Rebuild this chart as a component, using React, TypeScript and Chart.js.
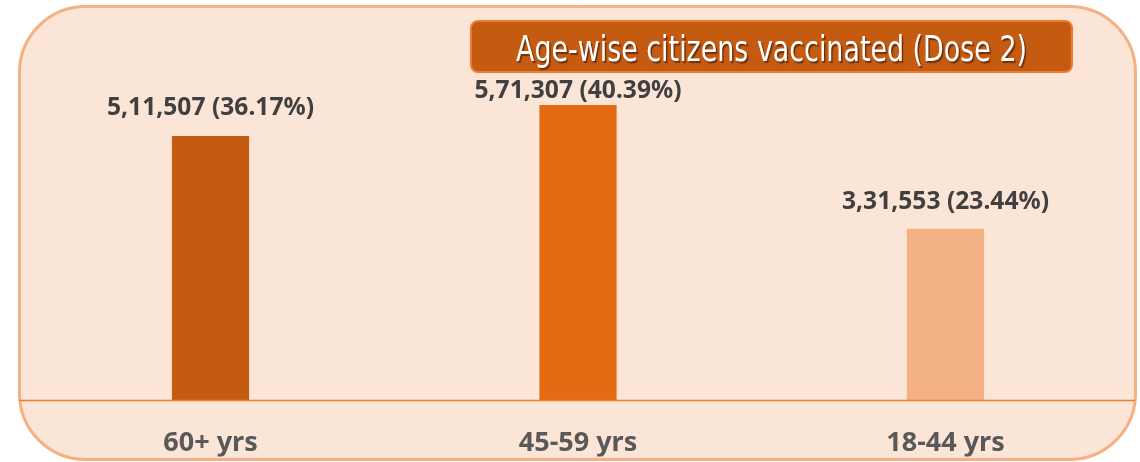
import React, { useEffect, useRef } from "react";
import { Chart, registerables } from "chart.js";

Chart.register(...registerables);

const categories = ["60+ yrs", "45-59 yrs", "18-44 yrs"];
const citizens = [511507, 571307, 331553];
const shareLabels = ["5,11,507 (36.17%)", "5,71,307 (40.39%)", "3,31,553 (23.44%)"];
const barColors = ["#C55A11", "#E46A14", "#F4B183"];
const labelLift = [28, 14, 27];
const titleText = "Age-wise citizens vaccinated (Dose 2)";

function roundRect(ctx: CanvasRenderingContext2D, x: number, y: number, w: number, h: number, r: number) {
  ctx.beginPath();
  ctx.moveTo(x + r, y);
  ctx.lineTo(x + w - r, y);
  ctx.arcTo(x + w, y, x + w, y + r, r);
  ctx.lineTo(x + w, y + h - r);
  ctx.arcTo(x + w, y + h, x + w - r, y + h, r);
  ctx.lineTo(x + r, y + h);
  ctx.arcTo(x, y + h, x, y + h - r, r);
  ctx.lineTo(x, y + r);
  ctx.arcTo(x, y, x + r, y, r);
  ctx.closePath();
}

const framePlugin = {
  id: "frame",
  beforeDraw(chart: any) {
    const ctx = chart.ctx as CanvasRenderingContext2D;
    ctx.save();
    ctx.fillStyle = "#ffffff";
    ctx.fillRect(0, 0, chart.width, chart.height);
    roundRect(ctx, 19.5, 6.5, 1116, 453, 66);
    ctx.fillStyle = "#FBE5D6";
    ctx.fill();
    ctx.lineWidth = 3;
    ctx.strokeStyle = "#F4B183";
    ctx.stroke();
    ctx.beginPath();
    ctx.moveTo(580, 0);
    ctx.lineTo(586, 0);
    ctx.lineTo(583, 6);
    ctx.closePath();
    ctx.fillStyle = "#ffffff";
    ctx.fill();
    ctx.restore();
  },
  afterDatasetsDraw(chart: any) {
    const ctx = chart.ctx as CanvasRenderingContext2D;
    const yScale = chart.scales.y;
    const y0 = Math.round(yScale.getPixelForValue(0)) + 0.5;
    ctx.save();
    ctx.strokeStyle = "#ED7D31";
    ctx.lineWidth = 1.5;
    ctx.beginPath();
    ctx.moveTo(19, y0);
    ctx.lineTo(1135, y0);
    ctx.stroke();

    const meta = chart.getDatasetMeta(0);
    ctx.fillStyle = "#404040";
    ctx.font = "bold 25px 'Noto Sans'";
    ctx.textAlign = "center";
    ctx.textBaseline = "middle";
    meta.data.forEach((bar: any, i: number) => {
      const txt = shareLabels[i];
      const w = ctx.measureText(txt).width;
      const target = 207;
      ctx.save();
      ctx.translate(bar.x, bar.y - labelLift[i]);
      ctx.scale(target / w, 1);
      ctx.fillText(txt, 0, 0);
      ctx.restore();
    });

    roundRect(ctx, 471, 21, 601, 51, 7);
    ctx.fillStyle = "#C55A11";
    ctx.fill();
    ctx.lineWidth = 2;
    ctx.strokeStyle = "#ED7D31";
    ctx.stroke();
    ctx.font = "35px 'DejaVu Sans Condensed', 'DejaVu Sans'";
    ctx.textAlign = "center";
    ctx.textBaseline = "alphabetic";
    const tw = ctx.measureText(titleText).width;
    ctx.save();
    ctx.translate(771.5, 61);
    ctx.scale(511 / tw, 1);
    ctx.shadowColor = "rgba(0,0,0,0.45)";
    ctx.shadowOffsetX = 1.5;
    ctx.shadowOffsetY = 1.5;
    ctx.shadowBlur = 1;
    ctx.fillStyle = "#ffffff";
    ctx.fillText(titleText, 0, 0);
    ctx.restore();
    ctx.restore();
  },
};

export default function App() {
  const ref = useRef<HTMLCanvasElement | null>(null);
  useEffect(() => {
    document.body.style.margin = "0";
    const canvas = ref.current!;
    const chart = new Chart(canvas, {
      type: "bar",
      data: {
        labels: categories,
        datasets: [
          {
            data: citizens,
            backgroundColor: barColors,
            borderWidth: 0,
            categoryPercentage: 1,
            barPercentage: 0.21,
          },
        ],
      },
      options: {
        animation: false,
        responsive: false,
        devicePixelRatio: 1,
        layout: { padding: { left: 26.75, right: 10.75, top: 38.7, bottom: 5.6 } },
        plugins: { legend: { display: false }, tooltip: { enabled: false }, title: { display: false } },
        scales: {
          x: {
            grid: { display: false, drawTicks: false },
            border: { display: false },
            ticks: {
              padding: 27.6,
              color: "#595959",
              font: { family: "'Noto Sans'", size: 27, weight: "bold" },
            },
            afterFit: (s: any) => {
              s.height = 56.4;
            },
          },
          y: {
            display: false,
            min: 0,
            max: 700000,
          },
        },
      },
      plugins: [framePlugin],
    });
    return () => chart.destroy();
  }, []);
  return (
    <div style={{ width: 1140, height: 462 }}>
      <canvas ref={ref} width={1140} height={462} style={{ display: "block" }} />
    </div>
  );
}
